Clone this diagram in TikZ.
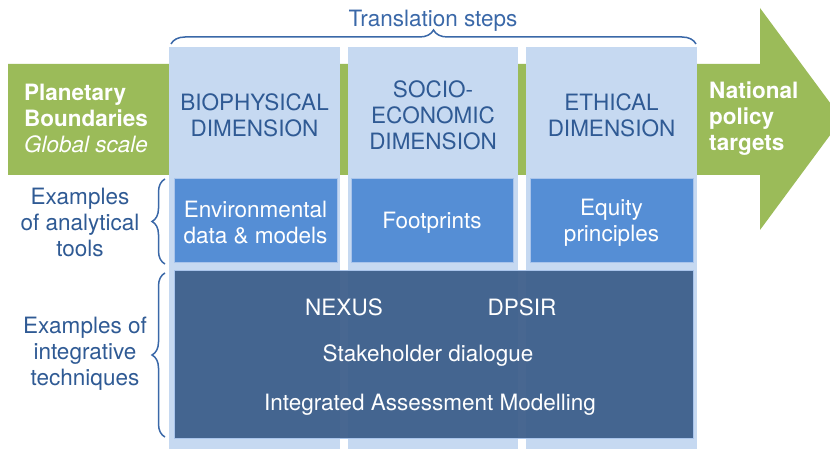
\documentclass[tikz,border=0pt]{standalone}
\usepackage{fontspec}
\setmainfont{TeX Gyre Heros}
\usetikzlibrary{decorations.pathreplacing}
\definecolor{pbgreen}{HTML}{9BBB59}
\definecolor{collight}{HTML}{C6D9F1}
\definecolor{toolblue}{HTML}{558ED5}
\definecolor{tooledge}{HTML}{A9C4EB}
\definecolor{darkbox}{HTML}{3E5F8B}
\definecolor{txtblue}{HTML}{2F5A94}
\definecolor{bracecol}{HTML}{3A68A8}
\begin{document}
\begin{tikzpicture}[x=1pt,y=-1pt,
  txt/.style={font=\fontsize{22.5}{26}\selectfont, align=center, inner sep=0pt},
  coltxt/.style={txt, text=txtblue},
  whitetxt/.style={txt, text=white},
  column/.style={fill=collight, draw=none, anchor=north west, inner sep=0pt, outer sep=0pt},
  toolbox/.style={fill=toolblue, draw=tooledge, line width=0.8pt, anchor=north west, inner sep=0pt, outer sep=0pt},
  bigbox/.style={fill=darkbox, fill opacity=0.95, draw=tooledge, line width=0.6pt, anchor=north west, inner sep=0pt, outer sep=0pt},
  bracedec/.style={draw=bracecol, line width=1.5pt, decorate, decoration={brace, amplitude=#1}}
]
\useasboundingbox (0,0) rectangle (830,449);
\clip (0,0) rectangle (830,449);
% green arrow
\fill[pbgreen] (8,64) -- (760,64) -- (760,8) -- (842,119) -- (760,230) -- (760,175) -- (8,175) -- cycle;
% columns
\node[column, minimum width=171pt, minimum height=410pt] (col1) at (169,47) {};
\node[column, minimum width=170pt, minimum height=410pt] (col2) at (348,47) {};
\node[column, minimum width=171pt, minimum height=410pt] (col3) at (526,47) {};
% tool boxes
\node[toolbox, minimum width=163pt, minimum height=84pt] (tool1) at (174,178) {};
\node[toolbox, minimum width=162pt, minimum height=84pt] (tool2) at (351,178) {};
\node[toolbox, minimum width=163pt, minimum height=84pt] (tool3) at (530,178) {};
% integrative box
\node[bigbox, minimum width=519pt, minimum height=168pt] (integ) at (174,270) {};
% arrow texts
\node[whitetxt, align=left, anchor=west] (pb) at (24,119) {\textbf{Planetary}\\\textbf{Boundaries}\\\textit{Global scale}};
\node[whitetxt, align=left, anchor=west] (npt) at (709,119) {\textbf{National}\\\textbf{policy}\\\textbf{targets}};
% title and brace
\node[txt, text=bracecol, anchor=base] (title) at (433,26.5) {Translation steps};
\coordinate (tbl) at (171,44);
\coordinate (tbr) at (696,44);
\draw[bracedec=14] (tbl) -- (tbr);
% headers
\node[coltxt] (h1) at (254.5,115) {BIOPHYSICAL\\DIMENSION};
\node[coltxt] (h2) at (433,115) {SOCIO-\\ECONOMIC\\DIMENSION};
\node[coltxt] (h3) at (611.5,115) {ETHICAL\\DIMENSION};
% tools texts
\node[whitetxt] (t1) at (255.5,223) {Environmental\\data \& models};
\node[whitetxt] (t2) at (432,223) {Footprints};
\node[whitetxt] (t3) at (611.5,223) {Equity\\principles};
% integrative texts
\node[whitetxt, anchor=base] (nexus) at (344,315) {NEXUS};
\node[whitetxt, anchor=base] (dpsir) at (522,315) {DPSIR};
\node[whitetxt, anchor=base] (stake) at (428,361) {Stakeholder dialogue};
\node[whitetxt, anchor=base] (iam) at (430,410) {Integrated Assessment Modelling};
% left labels
\node[coltxt] (lab1) at (80,222) {Examples\\of analytical\\tools};
\node[coltxt] (lab2) at (85,354) {Examples of\\integrative\\techniques};
% left braces
\coordinate (b1b) at (165,264);
\coordinate (b1t) at (165,179);
\coordinate (b2b) at (165,437);
\coordinate (b2t) at (165,273);
\draw[bracedec=13] (b1b) -- (b1t);
\draw[bracedec=13] (b2b) -- (b2t);
\end{tikzpicture}
\end{document}
